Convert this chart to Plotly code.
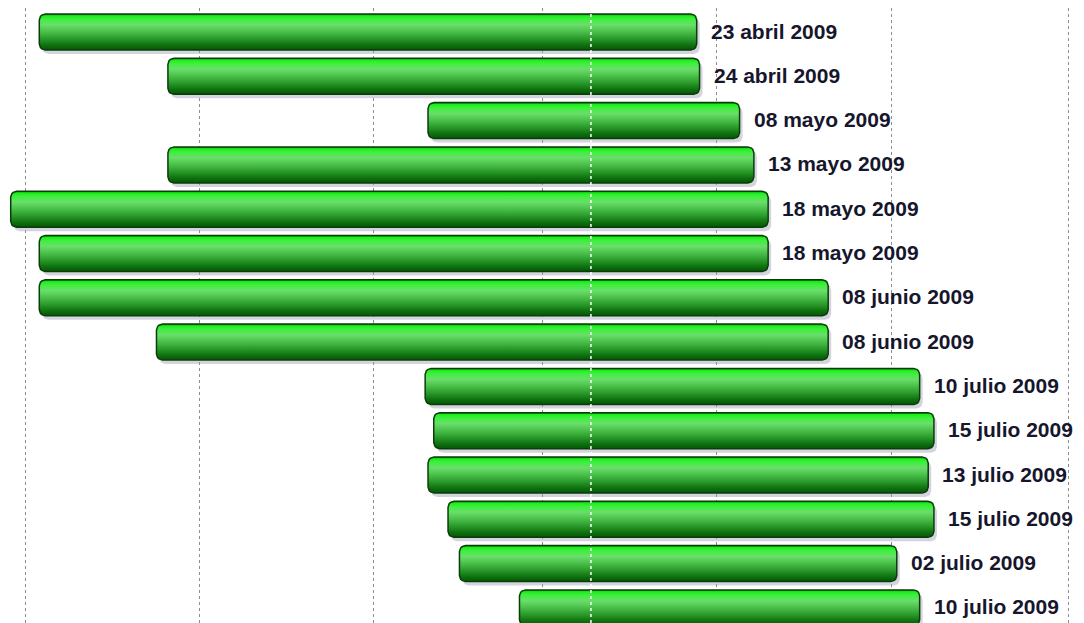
import numpy as np
import pandas as pd
import plotly.graph_objects as go

# ---- data ----
start_dates = ["2008-09-06", "2008-10-21", "2009-01-20", "2008-10-21", "2008-08-27",
               "2008-09-06", "2008-09-06", "2008-10-17", "2009-01-19", "2009-01-22",
               "2009-01-20", "2009-01-27", "2009-01-31", "2009-02-21"]
end_dates = ["2009-04-23", "2009-04-24", "2009-05-08", "2009-05-13", "2009-05-18",
             "2009-05-18", "2009-06-08", "2009-06-08", "2009-07-10", "2009-07-15",
             "2009-07-13", "2009-07-15", "2009-07-02", "2009-07-10"]
end_labels = ["23 abril 2009", "24 abril 2009", "08 mayo 2009", "13 mayo 2009",
              "18 mayo 2009", "18 mayo 2009", "08 junio 2009", "08 junio 2009",
              "10 julio 2009", "15 julio 2009", "13 julio 2009", "15 julio 2009",
              "02 julio 2009", "10 julio 2009"]
today_marker = "2009-03-18"

# ---- layout constants (page has an 8px body margin) ----
W, H = 1076, 615
x_range = [pd.Timestamp("2008-08-26 01:15"), pd.Timestamp("2009-09-06 12:00")]
y_range = [13.341, -0.5418]
px_per_day = W / ((x_range[1] - x_range[0]).total_seconds() / 86400)
px_per_row = H / (y_range[0] - y_range[1])
bar_h = 36 / px_per_row
radius_px = 6

fig = go.Figure()

def rounded_rect(x0, x1, y0, y1, rx_days, ry):
    xs, ys = [], []
    n = 6
    corners = [
        (x1 - rx_days, y0 + ry, -np.pi / 2, 0),
        (x1 - rx_days, y1 - ry, 0, np.pi / 2),
        (x0 + rx_days, y1 - ry, np.pi / 2, np.pi),
        (x0 + rx_days, y0 + ry, np.pi, 1.5 * np.pi),
    ]
    for cx, cy, a0, a1 in corners:
        for a in np.linspace(a0, a1, n):
            xs.append(cx + np.cos(a) * rx_days)
            ys.append(cy + np.sin(a) * ry)
    xs.append(xs[0]); ys.append(ys[0])
    return xs, ys

rx_days = radius_px / px_per_day
ry = radius_px / px_per_row
t0 = x_range[0]

# gradient listed from top of bar (screen) to bottom
grad_top_to_bottom = [[0.0, "#1a6a1a"], [0.05, "#19ee19"], [0.14, "#3cf03c"], [0.30, "#6ade6a"],
                      [0.48, "#4cc24c"], [0.68, "#2b9b2b"], [0.86, "#0f7210"], [1.0, "#055505"]]
grad = [[round(1 - p, 4), c] for p, c in reversed(grad_top_to_bottom)]

for i, (s, e) in enumerate(zip(start_dates, end_dates)):
    sd = (pd.Timestamp(s) - t0).total_seconds() / 86400
    ed = (pd.Timestamp(e) + pd.Timedelta(days=1) - t0).total_seconds() / 86400
    y0, y1 = i - bar_h / 2, i + bar_h / 2
    sx, sy = rounded_rect(sd + 3 / px_per_day, ed + 3 / px_per_day,
                          y0 + 4 / px_per_row, y1 + 4 / px_per_row, rx_days, ry)
    fig.add_trace(go.Scatter(
        x=[t0 + pd.Timedelta(days=v) for v in sx], y=sy, mode="lines", fill="toself",
        fillcolor="rgba(160,160,185,0.45)", line=dict(width=0), hoverinfo="skip",
        showlegend=False))
    bx, by = rounded_rect(sd, ed, y0, y1, rx_days, ry)
    fig.add_trace(go.Scatter(
        x=[t0 + pd.Timedelta(days=v) for v in bx], y=by, mode="lines", fill="toself",
        fillgradient=dict(type="vertical", colorscale=grad),
        line=dict(color="#0b3d0b", width=1.5), hoverinfo="skip", showlegend=False))
    fig.add_annotation(x=pd.Timestamp(e) + pd.Timedelta(days=1), y=i, text=end_labels[i],
                       xanchor="left", yanchor="middle", xshift=12, yshift=1,
                       showarrow=False,
                       font=dict(family="Liberation Sans, Arial, sans-serif", size=21,
                                 color="#16162c", weight="bold"))

fig.add_shape(type="line", x0=today_marker, x1=today_marker, y0=0, y1=1, yref="paper",
              line=dict(color="white", width=1.5, dash="dot"), layer="above")

fig.update_layout(
    width=W, height=H, margin=dict(l=0, r=0, t=0, b=0),
    plot_bgcolor="white", paper_bgcolor="white",
    xaxis=dict(type="date", range=x_range, showgrid=True, gridcolor="#8c8c8c",
               griddash="dot", gridwidth=1, dtick="M2", tick0="2008-09-01",
               showticklabels=False, zeroline=False, showline=False, ticks=""),
    yaxis=dict(range=y_range, showgrid=False, showticklabels=False, zeroline=False,
               showline=False, ticks=""),
)

fig.write_html("out.html")
